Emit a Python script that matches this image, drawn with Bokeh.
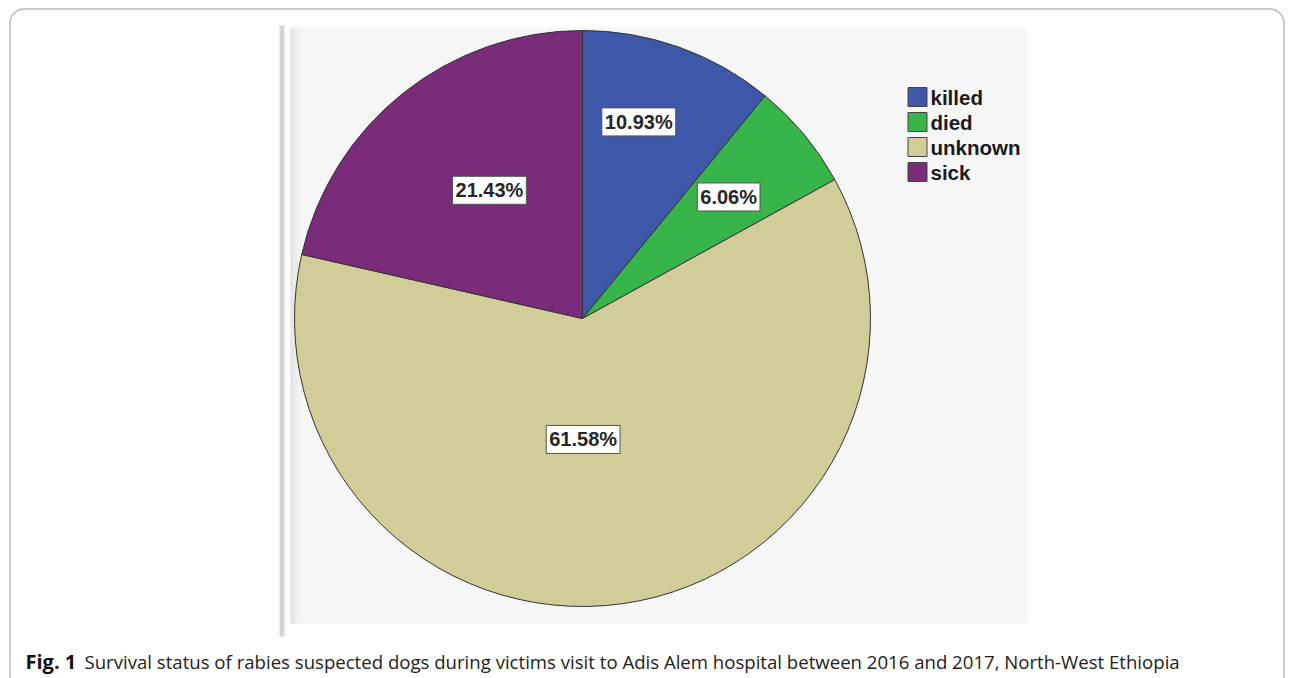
import math
from bokeh.plotting import figure
from bokeh.models import Range1d, BoxAnnotation, ColumnDataSource
from bokeh.core.properties import value
from bokeh.embed import file_html
from bokeh.resources import INLINE

# ---- data ----
categories = ["killed", "died", "unknown", "sick"]
percentages = [10.93, 6.06, 61.58, 21.43]
colors = ["#3f57a8", "#38b54a", "#d1cc98", "#7a2c7b"]
caption_bold = "Fig. 1"
caption_text = ("Survival status of rabies suspected dogs during victims visit to Adis Alem "
                "hospital between 2016 and 2017, North-West Ethiopia")

W, H = 1292, 678
def fx(px):
    return px
def fy(py):
    return H - py

p = figure(width=W, height=H, x_range=Range1d(0, W), y_range=Range1d(0, H),
           output_backend="svg", toolbar_location=None, min_border=0)
p.axis.visible = False
p.grid.visible = False
p.outline_line_color = None
p.background_fill_color = "white"
p.border_fill_color = "white"

# outer rounded frame
p.add_layout(BoxAnnotation(left=fx(9.5), right=fx(1283.5), top=fy(8.5), bottom=-40,
                           border_radius=14, fill_alpha=0, line_color="#222222",
                           line_width=1.5))

# inner picture panel
p.quad(left=fx(279), right=fx(284), top=fy(25), bottom=fy(636), fill_color="#d4d4d4", line_color=None)
p.quad(left=fx(290), right=fx(1027), top=fy(27), bottom=fy(623), fill_color="#f6f6f6", line_color=None)
grad = ["#e2e2e2", "#e7e7e7", "#ebebeb", "#eeeeee", "#f1f1f1", "#f3f3f3", "#f5f5f5"]
for i, c in enumerate(grad):
    p.quad(left=fx(290 + 2 * i), right=fx(292 + 2 * i), top=fy(27), bottom=fy(623),
           fill_color=c, line_color=None)

# pie
cx, cy, R = fx(582), fy(318), 288
total = sum(percentages)
starts, ends, mids = [], [], []
cum = 0.0
for v in percentages:
    a0 = math.pi / 2 - 2 * math.pi * cum / total
    cum += v
    a1 = math.pi / 2 - 2 * math.pi * cum / total
    starts.append(a0)
    ends.append(a1)
    mids.append((a0 + a1) / 2)

src = ColumnDataSource(dict(start=starts, end=ends, color=colors))
p.wedge(x=cx, y=cy, radius=R, start_angle="start", end_angle="end", direction="clock",
        fill_color="color", line_color="#333333", line_width=1, source=src)

# labels
label_r = [0.71, 0.66, 0.42, 0.55]
label_nudge = [3.7, 0, -7.7, -2.6]
lx = [cx + R * f * math.cos(m + math.radians(n)) for m, f, n in zip(mids, label_r, label_nudge)]
ly = [cy + R * f * math.sin(m + math.radians(n)) for m, f, n in zip(mids, label_r, label_nudge)]
lsrc = ColumnDataSource(dict(x=lx, y=ly, t=["%.2f%%" % v for v in percentages]))
p.text(x="x", y="y", text="t", source=lsrc, text_align="center",
       text_baseline="middle", text_font=value("Liberation Sans"), text_font_style="bold",
       text_font_size="20px", text_color="#262626",
       background_fill_color="white", border_line_color="#555555",
       border_line_width=1, padding=3)

# legend
leg_x = fx(917)
leg_y = [fy(96.5 + 25 * i) for i in range(len(categories))]
p.rect(x=[leg_x] * len(categories), y=leg_y, width=19, height=19,
       fill_color=colors, line_color="#444444", line_width=1)
p.text(x=[fx(930)] * len(categories), y=leg_y, text=categories,
       text_font=value("Liberation Sans"), text_font_style="bold", text_font_size="20.5px",
       text_color="#1a1a1a", text_baseline="middle", text_align="left")

# caption
p.text(x=[fx(25)], y=[fy(661)], text=[caption_bold], text_font=value("Open Sans"),
       text_font_style="bold", text_font_size="20px", text_color="#111111",
       text_baseline="middle")
p.text(x=[fx(84)], y=[fy(661)], text=[caption_text], text_font=value("Open Sans"),
       text_font_size="18.6px", text_color="#222222", text_baseline="middle")

open("out.html", "w").write(file_html(p, INLINE))
